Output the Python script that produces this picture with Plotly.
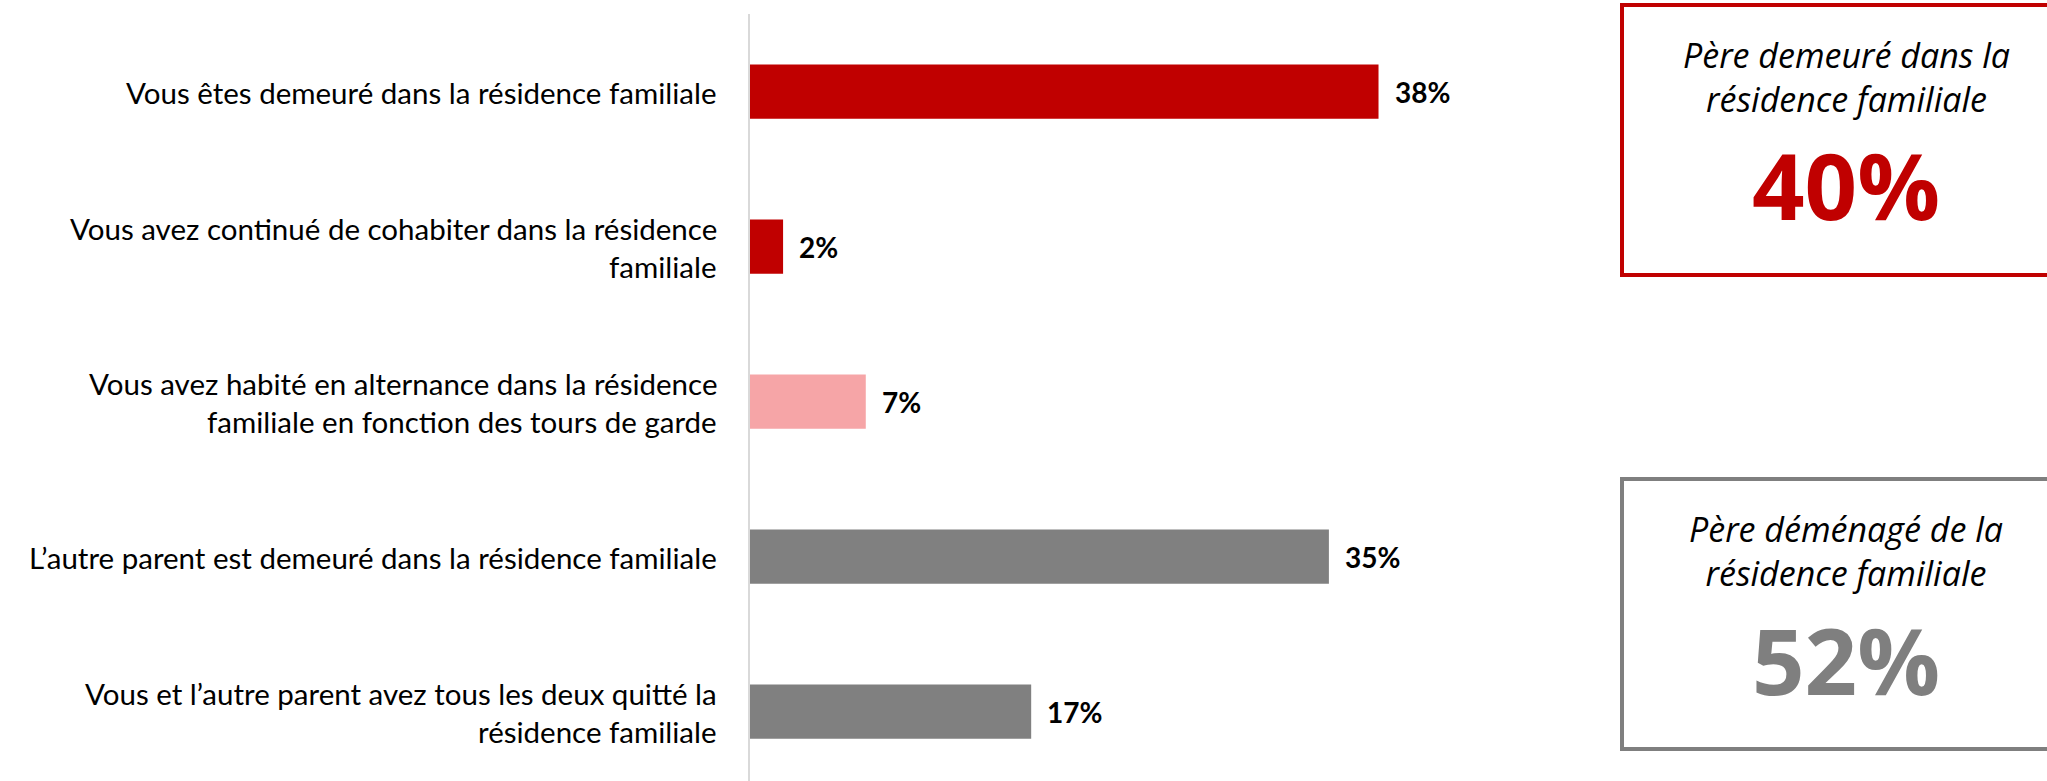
import plotly.graph_objects as go

categories = [
    "Vous êtes demeuré dans la résidence familiale",
    "Vous avez continué de cohabiter dans la résidence<br>familiale",
    "Vous avez habité en alternance dans la résidence<br>familiale en fonction des tours de garde",
    "L’autre parent est demeuré dans la résidence familiale",
    "Vous et l’autre parent avez tous les deux quitté la<br>résidence familiale",
]
values = [38, 2, 7, 35, 17]
bar_colors = ["#C00000", "#C00000", "#F6A5A7", "#808080", "#808080"]
value_labels = ["38%", "2%", "7%", "35%", "17%"]

box_titles = ["Père demeuré dans la<br>résidence familiale",
              "Père déménagé de la<br>résidence familiale"]
box_values = ["40%", "52%"]
box_colors = ["#C00000", "#7F7F7F"]

W, H = 2047, 781
L, T = 750, 14
PW, PH = W - L, H - T
PX_PER_PCT = 16.54

def px(x):
    return (x - L) / PW

def py(y):
    return (H - y) / PH

LABFONT = "Lato, Open Sans, sans-serif"
BOXFONT = "Open Sans, sans-serif"

fig = go.Figure()
fig.add_trace(go.Bar(
    x=values, y=categories, orientation="h",
    marker=dict(color=bar_colors, line=dict(width=0)),
    width=0.35, hoverinfo="skip",
))

# category labels (right-aligned, 38px line spacing)
LS = 38
for c in categories:
    lines = c.split("<br>")
    n = len(lines)
    for k, line in enumerate(lines):
        fig.add_annotation(x=px(719), y=c, xref="paper", yref="y", text=line,
                           showarrow=False, xanchor="right", yanchor="middle",
                           yshift=((n - 1) / 2 - k) * LS - 1,
                           font=dict(family=LABFONT, size=29.5, color="#000000"))

for v, c, lab in zip(values, categories, value_labels):
    fig.add_annotation(x=v, y=c, xref="x", yref="y", text="<b>%s</b>" % lab,
                       showarrow=False, xanchor="left", yanchor="middle", xshift=14,
                       font=dict(family=LABFONT, size=28, color="#000000"))

# boxes
box_tops = [5, 479]
box_bottoms = [275, 749]
title_y = [77, 551]
value_y = [184, 659]
for i in range(2):
    fig.add_shape(type="rect", xref="paper", yref="paper",
                  x0=px(1622), x1=px(2070), y0=py(box_bottoms[i]), y1=py(box_tops[i]),
                  line=dict(color=box_colors[i], width=4), fillcolor="rgba(0,0,0,0)")
    fig.add_annotation(xref="paper", yref="paper", x=px(1846), y=py(title_y[i]),
                       text="<i>%s</i>" % box_titles[i], showarrow=False,
                       xanchor="center", yanchor="middle",
                       font=dict(family=BOXFONT, size=34, color="#000000"))
    fig.add_annotation(xref="paper", yref="paper", x=px(1846), y=py(value_y[i]),
                       text="<b>%s</b>" % box_values[i], showarrow=False,
                       xanchor="center", yanchor="middle",
                       font=dict(family=BOXFONT, size=92, color=box_colors[i]))

fig.update_layout(
    width=W, height=H,
    margin=dict(l=L, r=0, t=T, b=0, autoexpand=False),
    paper_bgcolor="white", plot_bgcolor="white",
    showlegend=False,
    xaxis=dict(range=[0, PW / PX_PER_PCT], visible=False, fixedrange=True),
    yaxis=dict(range=[4.448, -0.5], showline=True, linecolor="#D9D9D9", linewidth=2,
               ticks="", showgrid=False, zeroline=False, showticklabels=False,
               fixedrange=True),
)

fig.write_html("out.html", config={"displayModeBar": False},
               post_script="document.body.style.margin='0';")
